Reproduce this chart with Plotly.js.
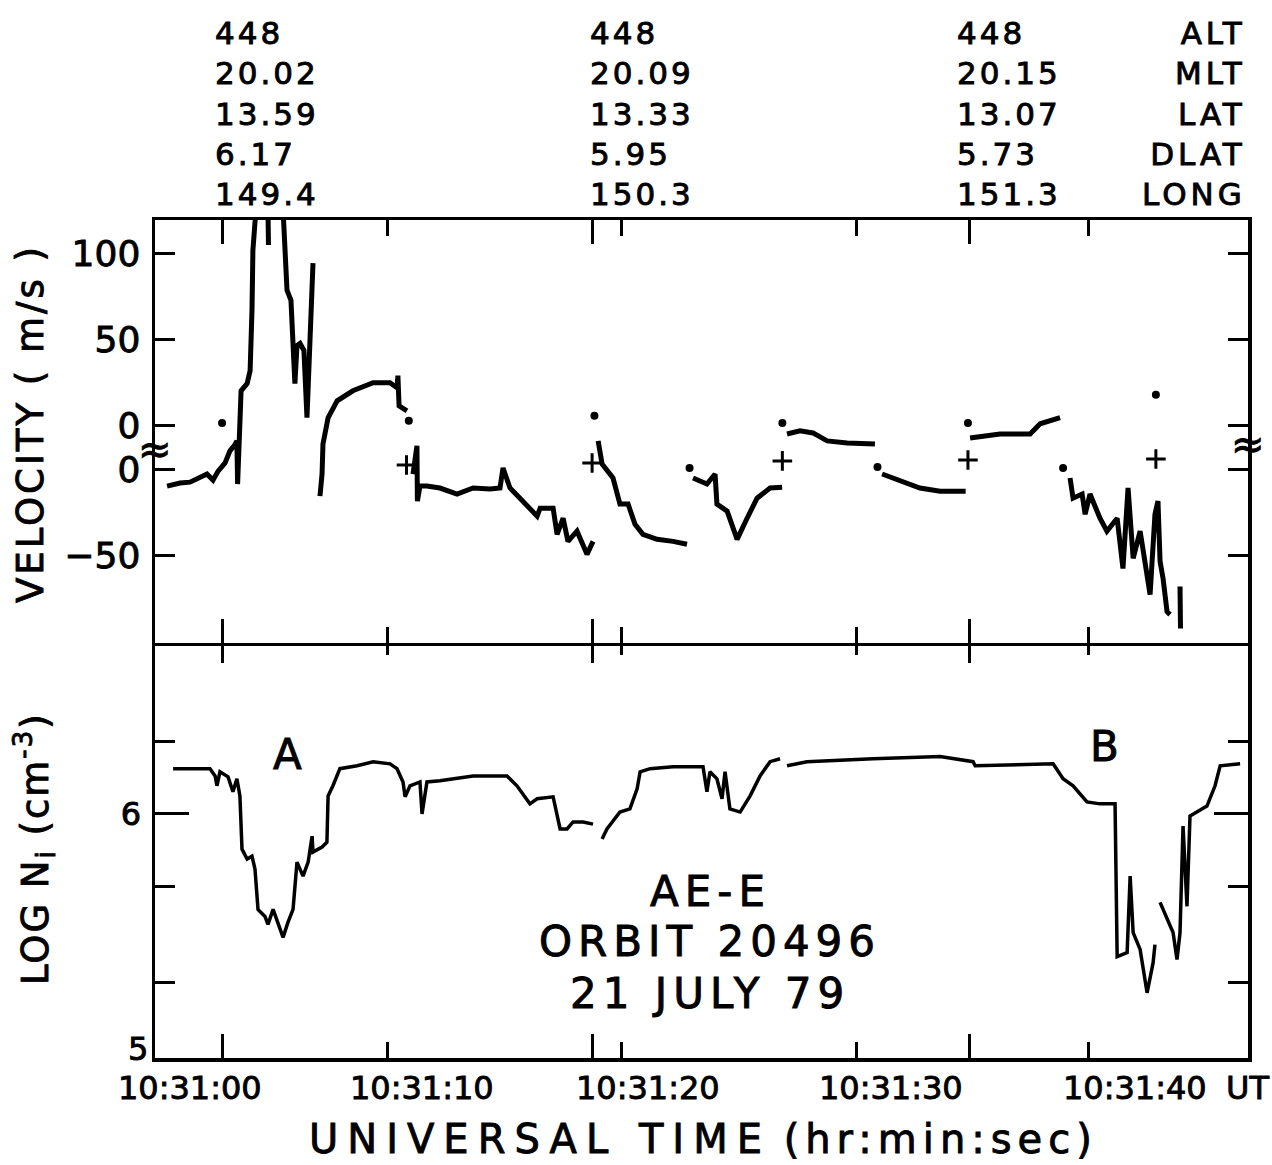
<!DOCTYPE html>
<html><head><meta charset="utf-8">
<script src="https://cdn.plot.ly/plotly-3.0.1.min.js"></script>
<style>
body{margin:0;background:#fff}
#chart svg text{stroke:#000;stroke-width:0.9px;}
</style>
</head><body>
<div id="chart" style="width:1272px;height:1165px"></div>
<script>
// ---------- DATA (time in s after 10:31:00, approximate) ----------
// Velocity panel (plotted value; upper segments are offset on the broken axis)
const velTime = [
 -1.42,-0.86,-0.43,0,0.30,0.56,0.78,1.08,1.29,1.47,1.59,1.62,1.68,1.77,2.03,2.16,2.24,2.28,2.41,null,
 2.93,2.95,null,
 3.58,3.66,3.75,3.92,4.01,4.09,4.18,4.31,4.48,4.61,4.74,4.87,null,
 5.17,5.26,5.30,5.52,5.91,6.59,7.46,8.19,8.49,8.53,8.58,8.92,null,
 9.18,9.35,9.37,9.48,9.78,10.34,11.08,11.77,12.5,12.93,13.06,13.36,13.79,14.22,14.53,14.66,15.22,15.39,15.65,15.86,16.25,16.68,16.94,null,
 17.16,17.33,17.8,18.1,18.45,18.75,19.09,19.7,20.39,20.99,null,
 21.25,21.85,22.2,22.28,22.72,23.15,23.58,24.01,24.57,25.09,null,
 25.3,25.86,26.42,27.03,27.89,29.09,null,
 29.4,30.17,31.03,31.9,33.0,null,
 33.19,34.48,35.78,36.21,37.07,null,
 37.5,37.63,38.02,38.15,38.36,38.79,39.09,39.53,39.66,39.78,40.0,40.22,40.52,40.73,40.95,41.16,41.29,41.38,41.51,41.68,41.81,null,
 42.24,42.26
];
const velValue = [
 -9.9,-8.1,-7.6,-4.7,-2.9,-6.4,-1.2,3.5,10.5,13.4,16.3,-8.7,16.3,45.3,49.4,57.0,91.9,126.7,150,null,
 150,129.7,null,
 150,120.9,103.5,97.7,76.2,49.4,71.5,72.7,68.6,29.7,74.4,119.2,null,
 -15.7,-2.9,14.5,29.7,39.5,45.3,50.0,50.0,47.1,54.1,36.6,33.7,null,
 -2.9,13.4,-18.6,-9.9,-9.9,-11.0,-14.5,-11.0,-11.6,-11.0,0.6,-11.0,-16.9,-22.7,-27.3,-22.7,-22.7,-37.8,-28.5,-41.9,-36.0,-49.4,-41.9,null,
 16.3,2.9,-5.2,-20.3,-20.3,-32.0,-37.8,-40.7,-41.9,-43.6,null,
 -5.2,-8.7,-2.9,-20.3,-24.4,-40.7,-28.5,-16.9,-11.0,-10.5,null,
 20.3,22.1,20.9,16.3,15.1,14.5,null,
 -2.9,-7.0,-11.0,-12.8,-12.8,null,
 18.0,20.3,20.3,26.2,29.7,null,
 -5.2,-16.9,-14.5,-26.2,-14.5,-28.5,-36.0,-28.5,-43.6,-57.6,-11.0,-51.7,-36.0,-53.5,-72.7,-26.2,-18.6,-53.5,-63.4,-82.6,-84.3,null,
 -68,-92.4
];
const dotTime  = [0.95, 9.0, 17.0, 21.1, 25.1, 29.2, 33.1, 37.2, 41.2];
const dotValue = [26.7, 27.9, 30.8, 0.6, 26.7, 1.2, 26.7, 0.6, 43];
const crossTime  = [8.9, 16.9, 25.1, 33.1, 41.2];
const crossValue = [2.3, 3.5, 4.7, 5.2, 5.8];

// Ion density panel (log10 Ni)
const niTime = [
 -1.16,0.43,0.65,0.73,0.86,1.21,1.42,1.59,1.72,1.81,2.03,2.24,2.37,2.5,2.8,2.93,3.15,3.36,3.58,3.79,4.01,4.18,4.44,4.66,4.83,4.87,5.26,5.47,5.52,5.73,6.03,6.77,7.46,8.19,8.49,8.75,8.84,9.05,9.48,9.57,9.78,10.34,11.77,13.23,13.66,14.22,14.53,15.22,15.52,15.82,16.08,16.51,16.94,null,
 17.33,17.54,18.1,18.53,18.84,18.97,19.4,20.39,21.68,21.85,21.98,22.28,22.5,22.63,22.84,23.28,23.71,24.14,24.57,25.0,null,
 25.3,26.16,29.01,31.9,33.32,33.41,36.77,37.2,37.63,38.23,38.79,39.44,39.53,39.96,40.09,40.22,40.52,40.82,41.08,41.16,null,
 41.38,41.94,42.11,42.24,42.37,42.54,42.67,43.4,43.75,43.97,44.83
];
const niLog = [
 6.188,6.188,6.158,6.117,6.175,6.154,6.092,6.146,6.075,5.854,5.813,5.825,5.771,5.604,5.575,5.542,5.604,5.55,5.488,5.55,5.604,5.8,5.742,5.8,5.908,5.842,5.863,5.883,6.075,6.117,6.188,6.2,6.217,6.208,6.188,6.133,6.071,6.117,6.133,6.0,6.133,6.138,6.158,6.158,6.117,6.042,6.063,6.071,5.938,5.938,5.967,5.967,5.958,null,
 5.896,5.938,6.008,6.021,6.104,6.175,6.188,6.196,6.196,6.092,6.175,6.146,6.063,6.175,6.021,6.008,6.075,6.158,6.217,6.229,null,
 6.2,6.217,6.229,6.238,6.217,6.2,6.208,6.146,6.117,6.05,6.042,6.042,5.408,5.425,5.742,5.508,5.438,5.258,5.383,5.458,null,
 5.633,5.508,5.396,5.508,5.95,5.617,5.992,6.033,6.117,6.2,6.208
];

// Axis ticks / labels
const timeMajorTicks = [0.95, 16.9, 33.15];
const timeMinorTicks = [8.1, 18.15, 28.28, 38.28];
const timeLabels = ['10:31:00','10:31:10','10:31:20','10:31:30','10:31:40'];
const velTickVals = [-50, 0, 25, 75, 125];
const velTickText = ['\u221250','0','0','50','100'];
const niTickVals = [6];
const niTickText = ['6'];
const niBottomLabel = '5';
const niMinorTicks = [5.301, 5.699, 6.301];

// Ephemeris header
const ephemNames = ['ALT','MLT','LAT','DLAT','LONG'];
const ephemCols = [
  ['448','20.02','13.59','6.17','149.4'],
  ['448','20.09','13.33','5.95','150.3'],
  ['448','20.15','13.07','5.73','151.3']
];

// ---------- LAYOUT ----------
const W=1272, H=1165, ML=155, MR=24, MT=220, MB=107;
const PW=W-ML-MR, PH=H-MT-MB;
const px = p => (p-ML)/PW;
const py = p => (H-MB-p)/PH;
const split = py(641);
const half = 1.75/PH;
const FONT = 'DejaVu Sans, Verdana, sans-serif';
const ls = (s, n) => `<span style="letter-spacing:${n}px">${s}</span>`;

const traces = [
  {x: velTime, y: velValue, xaxis:'x2', yaxis:'y', mode:'lines', connectgaps:false,
   line:{color:'#000', width:5}, hoverinfo:'skip'},
  {x: dotTime, y: dotValue, xaxis:'x2', yaxis:'y', mode:'markers',
   marker:{symbol:'circle', size:8, color:'#000'}, hoverinfo:'skip'},
  {x: crossTime, y: crossValue, xaxis:'x2', yaxis:'y', mode:'markers',
   marker:{symbol:'cross-thin', size:14, line:{width:3, color:'#000'}}, hoverinfo:'skip'},
  {x: niTime, y: niLog, xaxis:'x', yaxis:'y2', mode:'lines', connectgaps:false,
   line:{color:'#000', width:3.5}, hoverinfo:'skip'}
];

const xCommon = {
  range:[-1.94, 45.17], showline:true, linewidth:3.5, linecolor:'#000', mirror:'ticks',
  ticks:'inside', tickmode:'array', tickvals: timeMajorTicks, ticklen:24, tickwidth:3, tickcolor:'#000',
  showticklabels:false, showgrid:false, zeroline:false,
  minor:{tickmode:'array', tickvals: timeMinorTicks, ticks:'inside', ticklen:16, tickwidth:3, tickcolor:'#000', showgrid:false}
};

const annotations = [];
// ephemeris columns
const colLeft = [213, 588, 955];
ephemCols.forEach((col, i) => {
  annotations.push({xref:'paper', yref:'paper', x:px(colLeft[i]), y:py(114), xanchor:'left', yanchor:'middle',
    align:'left', showarrow:false, font:{family:FONT, size:31, color:'#000'},
    text: col.map(s => ls(s,3)).join('<br>')});
});
annotations.push({xref:'paper', yref:'paper', x:px(1248), y:py(114), xanchor:'right', yanchor:'middle',
  align:'right', showarrow:false, font:{family:FONT, size:31, color:'#000'},
  text: ephemNames.map(s => ls(s,4)).join('<br>')});
// time labels
const labelCenters = [190, 422, 648, 891, 1135];
timeLabels.forEach((t, i) => {
  annotations.push({xref:'paper', yref:'paper', x:px(labelCenters[i]), y:py(1088), xanchor:'center', yanchor:'middle',
    showarrow:false, font:{family:FONT, size:32, color:'#000'}, text:t});
});
annotations.push({xref:'paper', yref:'paper', x:px(1247), y:py(1088), xanchor:'center', yanchor:'middle',
  showarrow:false, font:{family:FONT, size:32, color:'#000'}, text:'UT'});
// bottom y label "5" (sits just above the corner)
annotations.push({xref:'paper', yref:'paper', x:px(150), y:py(1049), xanchor:'right', yanchor:'middle',
  showarrow:false, font:{family:FONT, size:32, color:'#000'}, text:niBottomLabel});
// x title
annotations.push({xref:'paper', yref:'paper', x:px(703), y:py(1139), xanchor:'center', yanchor:'middle',
  showarrow:false, font:{family:FONT, size:40, color:'#000'},
  text: ls('UNIVERSAL\u00A0TIME',9) + '\u00A0' + ls('(hr:min:sec)',6)});
// y titles
annotations.push({xref:'paper', yref:'paper', x:px(31), y:py(424), xanchor:'center', yanchor:'middle', textangle:-90,
  showarrow:false, font:{family:FONT, size:37, color:'#000'}, text: ls('VELOCITY ( m/s )',3)});
annotations.push({xref:'paper', yref:'paper', x:px(34), y:py(849), xanchor:'center', yanchor:'middle', textangle:-90,
  showarrow:false, font:{family:FONT, size:37, color:'#000'}, text: ls('LOG N<sub>i</sub> (cm<sup>-3</sup>)',2)});
// break marks
annotations.push({xref:'paper', yref:'y', x:0, y:11.6, xanchor:'center', yanchor:'middle', showarrow:false,
  font:{family:FONT, size:40, color:'#000'}, text:'\u2248'});
annotations.push({xref:'paper', yref:'y', x:1, y:14.5, xanchor:'center', yanchor:'middle', showarrow:false,
  font:{family:FONT, size:40, color:'#000'}, text:'\u2248'});
// panel labels
annotations.push({xref:'x', yref:'y2', x:3.75, y:6.246, showarrow:false, font:{family:FONT, size:42, color:'#000'}, text:'A'});
annotations.push({xref:'x', yref:'y2', x:39.0, y:6.279, showarrow:false, font:{family:FONT, size:42, color:'#000'}, text:'B'});
const infoLines = ['AE-E', 'ORBIT 20496', '21 JULY 79'];
const infoY = [891, 941, 993];
infoLines.forEach((s, i) => {
  annotations.push({xref:'paper', yref:'paper', x:px(710), y:py(infoY[i]), xanchor:'center', yanchor:'middle',
    showarrow:false, font:{family:FONT, size:42, color:'#000'}, text: ls(s,6)});
});

const layout = {
  width:W, height:H, margin:{l:ML, r:MR, t:MT, b:MB}, showlegend:false,
  paper_bgcolor:'#fff', plot_bgcolor:'#fff', font:{family:FONT, color:'#000'},
  xaxis: Object.assign({}, xCommon, {anchor:'y2', domain:[0,1]}),
  xaxis2: Object.assign({}, xCommon, {anchor:'y', domain:[0,1], matches:'x'}),
  yaxis: {domain:[split-half,1], anchor:'x2', range:[-100.6, 144.2], tickmode:'array', tickvals:velTickVals, ticktext:velTickText,
    ticks:'inside', ticklen:20, tickwidth:3, tickcolor:'#000', showline:true, linewidth:3.5, linecolor:'#000', mirror:'ticks',
    showgrid:false, zeroline:false, tickfont:{family:FONT, size:36, color:'#000'}, ticklabelstandoff:4},
  yaxis2: {domain:[0,split+half], anchor:'x', range:[4.9875, 6.725], tickmode:'array', tickvals:niTickVals, ticktext:niTickText,
    ticks:'inside', ticklen:34, tickwidth:3, tickcolor:'#000', showline:true, linewidth:3.5, linecolor:'#000', mirror:'ticks',
    showgrid:false, zeroline:false, tickfont:{family:FONT, size:32, color:'#000'}, ticklabelstandoff:4,
    minor:{tickmode:'array', tickvals:niMinorTicks, ticks:'inside', ticklen:20, tickwidth:3, tickcolor:'#000', showgrid:false}},
  annotations: annotations
};

Plotly.newPlot('chart', traces, layout, {staticPlot:true, displayModeBar:false});
</script>
</body></html>
